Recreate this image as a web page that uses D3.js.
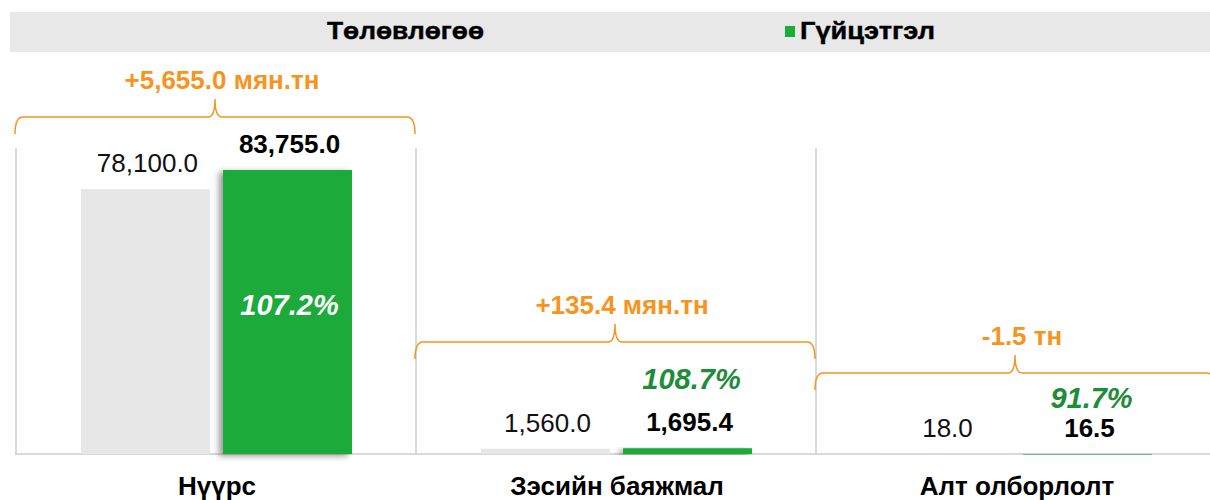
<!DOCTYPE html>
<html>
<head>
<meta charset="utf-8">
<script src="https://cdn.jsdelivr.net/npm/d3@7"></script>
<style>
  body { margin: 0; background: #fff; }
  svg { display: block; font-family: "Liberation Sans", Arial, sans-serif; }
</style>
</head>
<body>
<div id="chart"></div>
<script>
// Data
var categories = ['Нүүрс', 'Зэсийн баяжмал', 'Алт олборлолт'];
var seriesNames = ['Төлөвлөгөө', 'Гүйцэтгэл'];
var planValues = [78100.0, 1560.0, 18.0];
var actualValues = [83755.0, 1695.4, 16.5];
var pctLabels = ['107.2%', '108.7%', '91.7%'];
var diffLabels = ['+5,655.0 мян.тн', '+135.4 мян.тн', '-1.5 тн'];

// Layout per panel (brace line y, percent label baseline)
var braceY = [117, 342, 373];
var pctY = [315, 389, 408];

var width = 1210;
var height = 500;
var baseY = 454;

var GREEN = '#1aab3b';
var GRAY = '#e7e7e7';
var ORANGE = '#f7941d';
var LINE = '#d9d9d9';

var svg = d3.select('#chart').append('svg')
  .attr('width', width)
  .attr('height', height);

var defs = svg.append('defs');
var shadow = defs.append('filter').attr('id', 'shadow')
  .attr('x', '-20%').attr('y', '-5%').attr('width', '140%').attr('height', '110%');
shadow.append('feDropShadow')
  .attr('dx', -4).attr('dy', 2)
  .attr('stdDeviation', 3)
  .attr('flood-color', '#000')
  .attr('flood-opacity', 0.4);

// Scales: panels side by side, one shared value axis
var x = d3.scaleBand().domain(categories).range([16, 1216]);
var xInner = d3.scaleBand().domain(seriesNames).range([65, 336]).paddingInner(0.092);
var y = d3.scaleLinear().domain([0, d3.max(actualValues)]).range([baseY, 170]);

var rows = categories.map(function(c, i) {
  return { cat: c, plan: planValues[i], actual: actualValues[i], pct: pctLabels[i],
    diff: diffLabels[i], braceY: braceY[i], pctY: pctY[i], idx: i };
});

// Legend band
svg.append('rect')
  .attr('x', 10).attr('y', 12)
  .attr('width', 1200).attr('height', 40)
  .attr('fill', '#e8e8e8');

svg.append('text')
  .attr('x', 327).attr('y', 39)
  .attr('textLength', 157).attr('lengthAdjust', 'spacingAndGlyphs')
  .attr('font-size', 24).attr('font-weight', 'bold').attr('fill', '#000')
  .attr('stroke', '#000').attr('stroke-width', 0.4)
  .text(seriesNames[0]);

svg.append('rect')
  .attr('x', 785).attr('y', 26)
  .attr('width', 10).attr('height', 11)
  .attr('fill', GREEN);

svg.append('text')
  .attr('x', 800).attr('y', 39)
  .attr('textLength', 135).attr('lengthAdjust', 'spacingAndGlyphs')
  .attr('font-size', 24).attr('font-weight', 'bold').attr('fill', '#000')
  .attr('stroke', '#000').attr('stroke-width', 0.4)
  .text(seriesNames[1]);

// Panel separators and baseline
svg.selectAll('line.sep')
  .data(categories)
  .enter().append('line')
  .attr('class', 'sep')
  .attr('x1', function(d) { return x(d); })
  .attr('x2', function(d) { return x(d); })
  .attr('y1', 148).attr('y2', baseY)
  .attr('stroke', LINE).attr('stroke-width', 2);

svg.append('line')
  .attr('x1', 15).attr('x2', width)
  .attr('y1', baseY).attr('y2', baseY)
  .attr('stroke', LINE).attr('stroke-width', 2);

var panel = svg.selectAll('g.panel')
  .data(rows)
  .enter().append('g')
  .attr('class', 'panel')
  .attr('transform', function(d) { return 'translate(' + x(d.cat) + ',0)'; });

// Plan bars
panel.append('rect')
  .attr('x', xInner(seriesNames[0]))
  .attr('y', function(d) { return y(d.plan); })
  .attr('width', xInner.bandwidth())
  .attr('height', function(d) { return baseY - y(d.plan); })
  .attr('fill', GRAY);

// Actual bars, with a soft shadow
panel.append('rect')
  .attr('x', xInner(seriesNames[1]))
  .attr('y', function(d) { return y(d.actual); })
  .attr('width', xInner.bandwidth())
  .attr('height', function(d) { return Math.max(baseY - y(d.actual), 0.6); })
  .attr('fill', GREEN)
  .attr('filter', 'url(#shadow)');

// Value labels
panel.append('text')
  .attr('x', xInner(seriesNames[0]) + xInner.bandwidth() / 2 + 2)
  .attr('y', function(d) { return y(d.plan) - 17; })
  .attr('text-anchor', 'middle')
  .attr('font-size', 26).attr('fill', '#111')
  .text(function(d) { return d3.format(',.1f')(d.plan); });

panel.append('text')
  .attr('x', xInner(seriesNames[1]) + xInner.bandwidth() / 2 + 2)
  .attr('y', function(d) { return y(d.actual) - 17; })
  .attr('text-anchor', 'middle')
  .attr('font-size', 26).attr('font-weight', 'bold').attr('fill', '#000')
  .text(function(d) { return d3.format(',.1f')(d.actual); });

// Percent labels: inside the tall bar, above the short ones
panel.append('text')
  .attr('x', function(d) { return xInner(seriesNames[1]) + xInner.bandwidth() / 2 + (d.idx === 0 ? 2 : 4); })
  .attr('y', function(d) { return d.pctY; })
  .attr('text-anchor', 'middle')
  .attr('font-size', 29).attr('font-weight', 'bold').attr('font-style', 'italic')
  .attr('fill', function(d) { return d.idx === 0 ? '#fff' : '#1e8c38'; })
  .text(function(d) { return d.pct; });

// Braces with the difference
function bracePath(x0, x1, y0) {
  var xc = (x0 + x1) / 2;
  return 'M' + x0 + ',' + (y0 + 17) +
    ' Q' + x0 + ',' + y0 + ' ' + (x0 + 8) + ',' + y0 +
    ' L' + (xc - 7) + ',' + y0 +
    ' Q' + xc + ',' + y0 + ' ' + xc + ',' + (y0 - 18) +
    ' Q' + xc + ',' + y0 + ' ' + (xc + 7) + ',' + y0 +
    ' L' + (x1 - 8) + ',' + y0 +
    ' Q' + x1 + ',' + y0 + ' ' + x1 + ',' + (y0 + 17);
}

panel.append('path')
  .attr('d', function(d) { return bracePath(-1, x.bandwidth() - 1, d.braceY); })
  .attr('fill', 'none')
  .attr('stroke', ORANGE).attr('stroke-width', 1.5);

panel.append('text')
  .attr('x', x.bandwidth() / 2 + 6)
  .attr('y', function(d) { return d.braceY - 28; })
  .attr('text-anchor', 'middle')
  .attr('font-size', 26).attr('font-weight', 'bold').attr('fill', ORANGE)
  .text(function(d) { return d.diff; });

// Category labels
panel.append('text')
  .attr('x', x.bandwidth() / 2 + 1)
  .attr('y', 495)
  .attr('text-anchor', 'middle')
  .attr('font-size', 26).attr('font-weight', 'bold').attr('fill', '#000')
  .text(function(d) { return d.cat; });
</script>
</body>
</html>
